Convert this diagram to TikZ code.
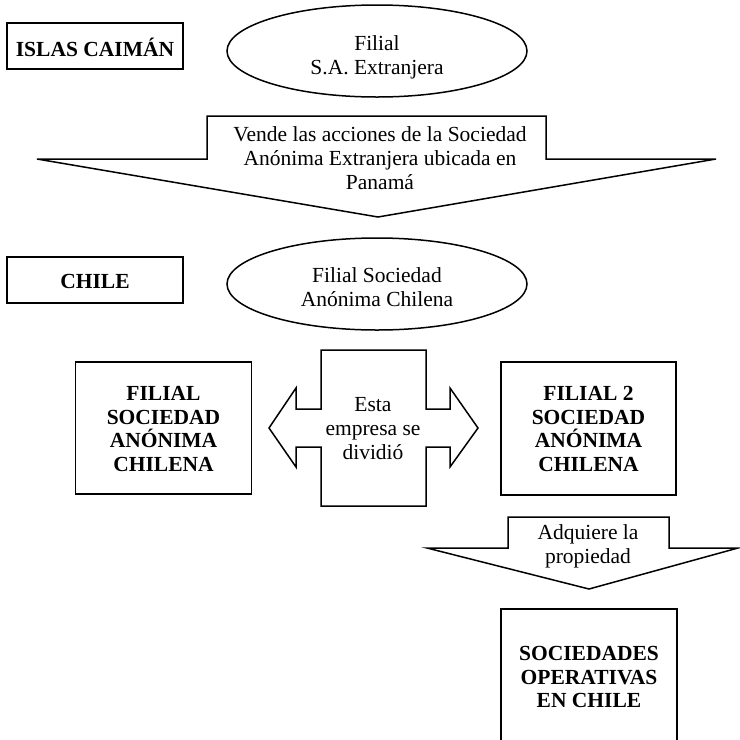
\documentclass[tikz,border=0pt]{standalone}
\usepackage{fontspec}
\setmainfont{Liberation Serif}
\usetikzlibrary{shapes.geometric}
\tikzset{
  shp/.style={draw=black, line width=1.5pt, line join=miter},
  txt/.style={align=center, inner sep=0pt, font=\fontsize{21.5}{24}\selectfont},
  btxt/.style={align=center, inner sep=0pt, font=\fontsize{21.5}{23.5}\selectfont\bfseries},
  lbox/.style={draw=black, line width=1.5pt, inner sep=0pt},
  oval/.style={ellipse, draw=black, line width=1.5pt, inner sep=0pt, minimum width=300pt, minimum height=92pt}
}
\begin{document}
\begin{tikzpicture}[x=1pt,y=-1pt]
\useasboundingbox (0,0) rectangle (740,740);

% country boxes
\node[lbox, minimum width=176pt, minimum height=46pt] (islas) at (95,46) {};
\node[btxt] (islast) at (95,47) {ISLAS CAIMÁN};
\node[lbox, minimum width=176pt, minimum height=46pt] (chile) at (95,280) {};
\node[btxt] (chilet) at (95,281) {CHILE};

% ellipses
\node[oval] (e1) at (377,51) {};
\node[txt] (e1t) at (377,57) {Filial\\S.A. Extranjera};
\node[oval] (e2) at (377,284) {};
\node[txt] (e2t) at (377,287) {Filial Sociedad\\Anónima Chilena};

% big down arrow 1
\draw[shp] (207,116) -- (546,116) -- (546,159) -- (716,159) -- (378,217)
  -- (37,159) -- (207,159) -- cycle;
\node[txt] (a1t) at (380,158) {Vende las acciones de la Sociedad\\Anónima Extranjera ubicada en\\Panamá};

% left and right boxes
\node[lbox, minimum width=176pt, minimum height=132pt] (lb) at (163.5,428) {};
\node[btxt] (lbt) at (163.5,429) {FILIAL\\SOCIEDAD\\ANÓNIMA\\CHILENA};
\node[lbox, minimum width=175pt, minimum height=133pt] (rb) at (588.5,428.5) {};
\node[btxt] (rbt) at (588.5,429) {FILIAL 2\\SOCIEDAD\\ANÓNIMA\\CHILENA};

% cross double arrow
\draw[shp] (321,350) -- (426,350) -- (426,409) -- (450,409) -- (450,388)
  -- (478,428) -- (450,467) -- (450,447) -- (426,447) -- (426,506)
  -- (321,506) -- (321,447) -- (296,447) -- (296,467) -- (269,428)
  -- (296,388) -- (296,409) -- (321,409) -- cycle;
\node[txt] (ct) at (373,429) {Esta\\empresa se\\dividió};

% down arrow 2
\draw[shp] (508,517) -- (669,517) -- (669,548) -- (738,548) -- (589,589)
  -- (427,548) -- (508,548) -- cycle;
\node[txt] (a2t) at (588,546) {Adquiere la\\propiedad};

% bottom box (open at page bottom)
\draw[shp] (501,742) -- (501,609) -- (677,609) -- (677,742);
\node[btxt] (bbt) at (589,677) {SOCIEDADES\\OPERATIVAS\\EN CHILE};
\end{tikzpicture}
\end{document}
